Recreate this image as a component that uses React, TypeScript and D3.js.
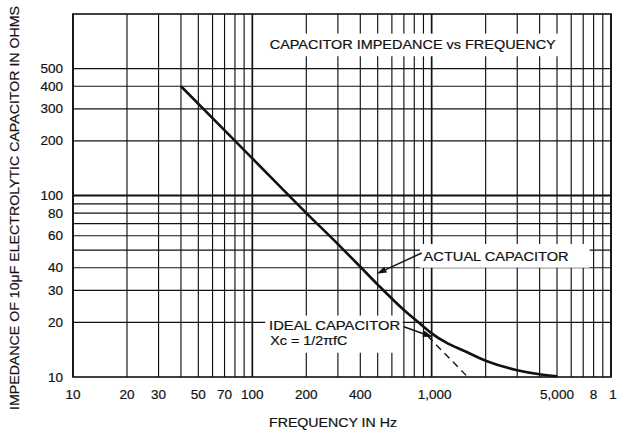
import { useEffect, useRef } from 'react';
import * as d3 from 'd3';

// frequency (Hz) ticks along the bottom, as printed
const freqTicks = [10, 20, 30, 50, 70, 100, 200, 400, 1000, 5000, 8000, 10000];
const freqTickLabels = ['10', '20', '30', '50', '70', '100', '200', '400', '1,000', '5,000', '8', '1'];

// impedance (ohms) ticks and horizontal rules
const ohmTicks = [10, 20, 30, 40, 60, 80, 100, 200, 300, 400, 500];
const ohmGrid = [20, 30, 40, 50, 60, 70, 80, 90, 100, 200, 300, 400, 500];

// actual capacitor curve
const actualFreq = [40, 100, 200, 300, 400, 500, 700, 850, 1000, 1200, 1500, 2000, 3000, 4000, 5000];
const actualOhms = [400, 160, 80, 54, 40.5, 32.3, 23.4, 19.9, 17.4, 15.5, 14.0, 12.3, 10.9, 10.35, 10.1];

// ideal capacitor (dashed continuation)
const idealFreq = [950, 1590];
const idealOhms = [16.8, 10];

const W = 627;
const H = 433;
const INK = '#111';
const FONT = '"Liberation Sans", Arial, Helvetica, sans-serif';

export default function App() {
  const svgRef = useRef<SVGSVGElement>(null);

  useEffect(() => {
    if (!svgRef.current) return;
    const svg = d3.select(svgRef.current);
    svg.selectAll('*').remove();

    const margin = { top: 14, right: 16, bottom: 56, left: 73 };
    const x = d3.scaleLog().domain([10, 10000]).range([margin.left, W - margin.right]);
    const y = d3.scaleLog().domain([10, 1000]).range([H - margin.bottom, margin.top]);
    const [x0, x1] = x.range();
    const [y0, y1] = y.range();

    svg.append('rect').attr('width', W).attr('height', H).attr('fill', '#fff');

    const isDecade = (v: number) => Math.abs(Math.log10(v) - Math.round(Math.log10(v))) < 1e-9;

    // grid
    const grid = svg.append('g').attr('stroke', INK);
    grid.selectAll('line.v')
      .data(x.ticks())
      .join('line')
      .attr('class', 'v')
      .attr('x1', d => x(d)).attr('x2', d => x(d))
      .attr('y1', y1).attr('y2', y0)
      .attr('stroke-width', d => (isDecade(d) ? 1.7 : 1.15));
    grid.selectAll('line.h')
      .data(ohmGrid)
      .join('line')
      .attr('class', 'h')
      .attr('x1', x0).attr('x2', x1)
      .attr('y1', d => y(d)).attr('y2', d => y(d))
      .attr('stroke-width', d => (d === 100 ? 1.8 : 1.15));

    // frame
    svg.append('rect')
      .attr('x', x0).attr('y', y1)
      .attr('width', x1 - x0).attr('height', y0 - y1)
      .attr('fill', 'none').attr('stroke', INK).attr('stroke-width', 1.6);

    const label = (txt: string, lx: number, ly: number, len?: number, size = 13) => {
      const t = svg.append('text')
        .attr('x', lx).attr('y', ly)
        .attr('dominant-baseline', 'central')
        .attr('font-family', FONT)
        .attr('font-size', size)
        .attr('fill', INK)
        .attr('stroke', INK)
        .attr('stroke-width', 0.2)
        .text(txt);
      if (len) t.attr('textLength', len).attr('lengthAdjust', 'spacingAndGlyphs');
      return t;
    };
    // white boxes knock out the grid behind labels
    const knockout = (x0b: number, y0b: number, x1b: number, y1b: number) => {
      svg.append('rect')
        .attr('x', x0b).attr('y', y0b)
        .attr('width', x1b - x0b).attr('height', y1b - y0b)
        .attr('fill', '#fff');
    };

    // title
    knockout(x(112), y(780), x(5600), y(585));
    label('CAPACITOR IMPEDANCE vs FREQUENCY', x(125), y(675), 286);

    // curves
    const line = d3.line<[number, number]>()
      .x(d => x(d[0]))
      .y(d => y(d[1]))
      .curve(d3.curveMonotoneX);

    svg.append('path')
      .datum(idealFreq.map((f, i) => [f, idealOhms[i]] as [number, number]))
      .attr('d', line)
      .attr('fill', 'none')
      .attr('stroke', INK)
      .attr('stroke-width', 1.4)
      .attr('stroke-dasharray', '7,5');

    knockout(x(860), y(54), x(7600), y(40));
    knockout(x(118), y(21.8), x(690), y(13.6));

    svg.append('path')
      .datum(actualFreq.map((f, i) => [f, actualOhms[i]] as [number, number]))
      .attr('d', line)
      .attr('fill', 'none')
      .attr('stroke', INK)
      .attr('stroke-width', 2.6)
      .attr('stroke-linejoin', 'round');

    label('ACTUAL CAPACITOR', x(902), y(46.4), 145);
    label('IDEAL CAPACITOR', x(124), y(19.3), 131);
    label('Xc = 1/2\u03c0fC', x(126), y(15.8), 77);

    // arrows
    const arrow = (fx: number, fy: number, tx: number, ty: number) => {
      const ax = x(fx), ay = y(fy), bx = x(tx), by = y(ty);
      const ang = Math.atan2(by - ay, bx - ax);
      const len = 10, half = 3.2;
      const bxs = bx - Math.cos(ang) * len;
      const bys = by - Math.sin(ang) * len;
      svg.append('line')
        .attr('x1', ax).attr('y1', ay).attr('x2', bxs).attr('y2', bys)
        .attr('stroke', INK).attr('stroke-width', 1.5);
      const px = -Math.sin(ang) * half, py = Math.cos(ang) * half;
      svg.append('path')
        .attr('d', `M${bx},${by}L${bxs + px},${bys + py}L${bxs - px},${bys - py}Z`)
        .attr('fill', INK);
    };
    arrow(880, 48.2, 493, 37);
    arrow(700, 18.9, 1014, 16.6);

    // tick labels
    svg.append('g')
      .selectAll('text')
      .data(freqTicks)
      .join('text')
      .attr('x', (d, i) => x(d) + (i === freqTicks.length - 1 ? 2 : i === 8 ? 3 : 0))
      .attr('y', y0 + 17)
      .attr('text-anchor', 'middle')
      .attr('dominant-baseline', 'central')
      .attr('font-family', FONT)
      .attr('font-size', 13.5)
      .attr('fill', INK)
      .attr('stroke', INK)
      .attr('stroke-width', 0.2)
      .text((d, i) => freqTickLabels[i]);

    svg.append('g')
      .selectAll('text')
      .data(ohmTicks)
      .join('text')
      .attr('x', x0 - 10)
      .attr('y', d => y(d))
      .attr('text-anchor', 'end')
      .attr('dominant-baseline', 'central')
      .attr('font-family', FONT)
      .attr('font-size', 13.5)
      .attr('fill', INK)
      .attr('stroke', INK)
      .attr('stroke-width', 0.2)
      .text(d => String(d));

    // axis titles
    svg.append('text')
      .attr('x', 333).attr('y', 422)
      .attr('text-anchor', 'middle')
      .attr('dominant-baseline', 'central')
      .attr('font-family', FONT)
      .attr('font-size', 13)
      .attr('fill', INK)
      .attr('stroke', INK)
      .attr('stroke-width', 0.2)
      .attr('textLength', 128)
      .attr('lengthAdjust', 'spacingAndGlyphs')
      .text('FREQUENCY IN Hz');

    svg.append('text')
      .attr('transform', 'translate(14,208) rotate(-90)')
      .attr('text-anchor', 'middle')
      .attr('dominant-baseline', 'central')
      .attr('font-family', FONT)
      .attr('font-size', 13)
      .attr('fill', INK)
      .attr('stroke', INK)
      .attr('stroke-width', 0.2)
      .attr('textLength', 404)
      .attr('lengthAdjust', 'spacingAndGlyphs')
      .text('IMPEDANCE OF 10\u03bcF ELECTROLYTIC CAPACITOR IN OHMS');
  }, []);

  return (
    <svg
      ref={svgRef}
      width={W}
      height={H}
      style={{ position: 'absolute', left: 0, top: 0, display: 'block' }}
    />
  );
}
